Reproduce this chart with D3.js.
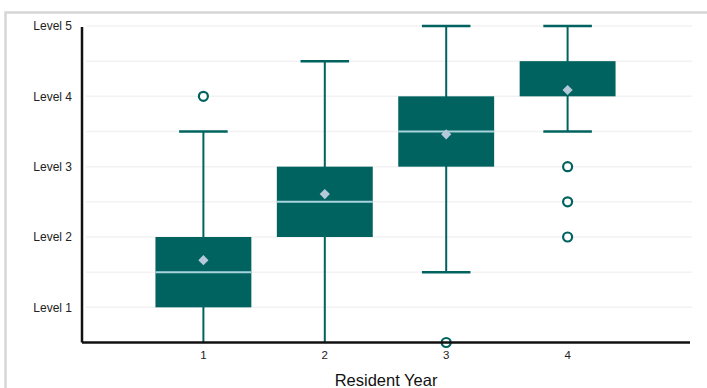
<!DOCTYPE html>
<html>
<head>
<meta charset="utf-8">
<script src="https://cdn.jsdelivr.net/npm/d3@7"></script>
<style>
  html, body { margin: 0; padding: 0; background: #fff; }
  svg { display: block; font-family: "Liberation Sans", Arial, sans-serif; }
</style>
</head>
<body>
<svg id="chart" width="707" height="388"></svg>
<script>
const years = [1, 2, 3, 4];
const q1 = [1, 2, 3, 4];
const medians = [1.5, 2.5, 3.5, 4];
const q3 = [2, 3, 4, 4.5];
const whiskerLow = [0.5, 0.5, 1.5, 3.5];
const whiskerHigh = [3.5, 4.5, 5, 5];
const means = [1.67, 2.61, 3.46, 4.09];
const outliers = [[4], [], [0.5], [3, 2.5, 2]];
const yTickValues = [1, 2, 3, 4, 5];
const yTickLabels = ["Level 1", "Level 2", "Level 3", "Level 4", "Level 5"];
const gridValues = [1, 1.5, 2, 2.5, 3, 3.5, 4, 4.5, 5];
const xTitle = "Resident Year";

const teal = "#00635f";
const medianColor = "#a8d3dc";
const meanColor = "#b6c9da";

const svg = d3.select("#chart");

// outer frame
svg.append("rect")
  .attr("x", 5.5).attr("y", 12.5).attr("width", 720).attr("height", 400)
  .attr("fill", "none").attr("stroke", "#d6d6d6").attr("stroke-width", 2.5);

const x = d3.scaleLinear().domain([0, 5]).range([82, 689]);
const y = d3.scaleLinear().domain([0.5, 5]).range([342.5, 26]);

// gridlines
svg.append("g").selectAll("line").data(gridValues).join("line")
  .attr("x1", 86).attr("x2", 692)
  .attr("y1", d => y(d)).attr("y2", d => y(d))
  .attr("stroke", "#f2f2f2").attr("stroke-width", 1.5);

const unit = x(1) - x(0);
const boxHalf = unit * 0.395;
const capHalf = unit * 0.2;

const g = svg.append("g");
years.forEach((yr, i) => {
  const cx = x(yr);
  g.append("line")
    .attr("x1", cx).attr("x2", cx)
    .attr("y1", y(whiskerLow[i])).attr("y2", y(whiskerHigh[i]))
    .attr("stroke", teal).attr("stroke-width", 2);
  [whiskerLow[i], whiskerHigh[i]].forEach(v => {
    if (v > 0.5) {
      g.append("line")
        .attr("x1", cx - capHalf).attr("x2", cx + capHalf)
        .attr("y1", y(v)).attr("y2", y(v))
        .attr("stroke", teal).attr("stroke-width", 2.5);
    }
  });
  g.append("rect")
    .attr("x", cx - boxHalf).attr("width", boxHalf * 2)
    .attr("y", y(q3[i])).attr("height", y(q1[i]) - y(q3[i]))
    .attr("fill", teal);
  if (medians[i] > q1[i]) {
    g.append("line")
      .attr("x1", cx - boxHalf).attr("x2", cx + boxHalf)
      .attr("y1", y(medians[i])).attr("y2", y(medians[i]))
      .attr("stroke", medianColor).attr("stroke-width", 2);
  }
  g.append("path")
    .attr("transform", `translate(${cx},${y(means[i])}) rotate(45)`)
    .attr("d", d3.symbol().type(d3.symbolSquare).size(52)())
    .attr("fill", meanColor);
});

// axes
svg.append("line")
  .attr("x1", x(0)).attr("x2", 690)
  .attr("y1", y(0.5)).attr("y2", y(0.5))
  .attr("stroke", "#111").attr("stroke-width", 2.5);
svg.append("line")
  .attr("x1", x(0)).attr("x2", x(0))
  .attr("y1", 27).attr("y2", y(0.5))
  .attr("stroke", "#111").attr("stroke-width", 2.5);

// outliers
years.forEach((yr, i) => {
  g.append("g").selectAll("circle").data(outliers[i]).join("circle")
    .attr("cx", x(yr)).attr("cy", d => y(d)).attr("r", 4.5)
    .attr("fill", "#fff").attr("stroke", teal).attr("stroke-width", 2.2);
});

// y labels
svg.append("g").selectAll("text").data(yTickValues).join("text")
  .attr("x", 72).attr("y", d => y(d))
  .attr("dy", "0.35em")
  .attr("text-anchor", "end")
  .attr("font-size", 12).attr("fill", "#222")
  .text((d, i) => yTickLabels[i]);

// x labels
svg.append("g").selectAll("text").data(years).join("text")
  .attr("x", d => x(d)).attr("y", 359)
  .attr("text-anchor", "middle")
  .attr("font-size", 11.5).attr("fill", "#222")
  .text(d => d);

svg.append("text")
  .attr("x", 386).attr("y", 386)
  .attr("text-anchor", "middle")
  .attr("font-size", 16.5).attr("fill", "#111")
  .text(xTitle);
</script>
</body>
</html>
